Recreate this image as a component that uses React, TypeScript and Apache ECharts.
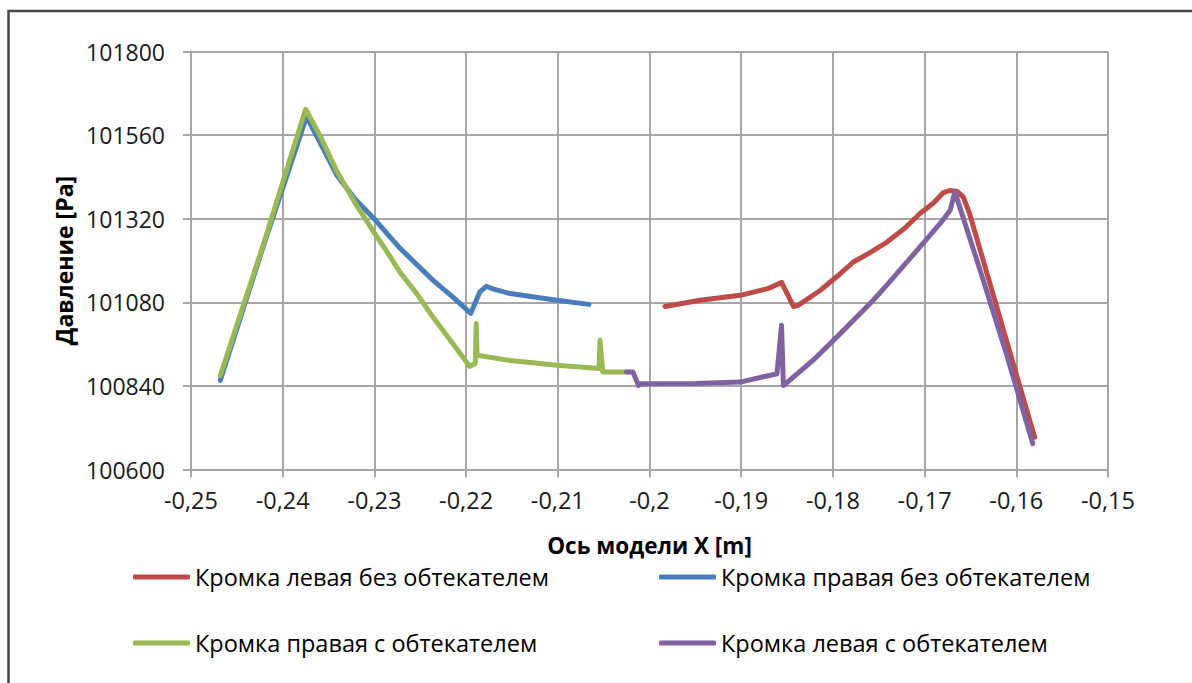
import React, { useEffect, useRef } from "react";
import * as echarts from "echarts";

const seriesNames = [
  "Кромка левая без обтекателем",
  "Кромка правая без обтекателем",
  "Кромка правая с обтекателем",
  "Кромка левая с обтекателем",
];

const colors = ["#BE4B48", "#4A7EBB", "#98B954", "#7F63A1"];

// Кромка левая без обтекателем (red)
const redX = [-0.1983, -0.1945, -0.1901, -0.1870, -0.1856, -0.1843, -0.1838, -0.1814, -0.1792, -0.1778, -0.1760, -0.1741, -0.1722, -0.1705, -0.1690, -0.1680, -0.1673, -0.1665, -0.1658, -0.1651, -0.1580];
const redY = [101068, 101086, 101100, 101120, 101137, 101068, 101071, 101114, 101162, 101195, 101222, 101253, 101292, 101335, 101366, 101394, 101401, 101399, 101383, 101335, 100693];

// Кромка правая без обтекателем (blue)
const blueX = [-0.2468, -0.2420, -0.2374, -0.2359, -0.2341, -0.2321, -0.2299, -0.2272, -0.2236, -0.2214, -0.2195, -0.2185, -0.2178, -0.2170, -0.2152, -0.2120, -0.2101, -0.2066];
const blueY = [100856, 101250, 101613, 101537, 101445, 101376, 101316, 101235, 101143, 101094, 101048, 101110, 101126, 101118, 101105, 101093, 101086, 101074];

// Кромка правая с обтекателем (green)
const greenX = [-0.2468, -0.2420, -0.2375, -0.2359, -0.2341, -0.2321, -0.2299, -0.2286, -0.2272, -0.2255, -0.2236, -0.2218, -0.2196, -0.2190, -0.2189, -0.2188, -0.2152, -0.2101, -0.2055, -0.2054, -0.2051, -0.2025];
const greenY = [100870, 101255, 101634, 101557, 101456, 101365, 101275, 101224, 101166, 101109, 101037, 100974, 100896, 100905, 101019, 100928, 100913, 100899, 100890, 100971, 100880, 100880];

// Кромка левая с обтекателем (purple)
const purpleX = [-0.2025, -0.2018, -0.2012, -0.2010, -0.1950, -0.1901, -0.1861, -0.1856, -0.1854, -0.1821, -0.1792, -0.1756, -0.1741, -0.1705, -0.1680, -0.1672, -0.1667, -0.1638, -0.1610, -0.1582];
const purpleY = [100880, 100880, 100841, 100846, 100847, 100851, 100875, 101014, 100841, 100915, 100990, 101086, 101130, 101239, 101316, 101345, 101397, 101160, 100925, 100674];

const xTicks = { min: -0.25, max: -0.15, interval: 0.01 };
const yTicks = { min: 100600, max: 101800, interval: 240 };

const xTitle = "Ось модели X [m]";
const yTitle = "Давление [Pa]";

const zip = (xs: number[], ys: number[]) => xs.map((x, i) => [x, ys[i]]);
const seriesData = [zip(redX, redY), zip(blueX, blueY), zip(greenX, greenY), zip(purpleX, purpleY)];

const FONT = "'Open Sans', 'Noto Sans', sans-serif";

export default function App() {
  const ref = useRef<HTMLDivElement>(null);
  useEffect(() => {
    if (!ref.current) return;
    const chart = echarts.init(ref.current, null, { renderer: "svg" });
    const fmtX = (v: number) => String(parseFloat(v.toFixed(2))).replace(".", ",");
    const fmtY = (v: number) => String(Math.round(v));
    const legendPos = [
      { left: 133, top: 563 },
      { left: 659, top: 563 },
      { left: 133, top: 629 },
      { left: 659, top: 629 },
    ];
    chart.setOption({
      animation: false,
      backgroundColor: "#ffffff",
      grid: { left: 191, top: 51.5, right: 84, bottom: 213.5, containLabel: false },
      xAxis: {
        type: "value",
        min: xTicks.min,
        max: xTicks.max,
        interval: xTicks.interval,
        name: xTitle,
        nameLocation: "middle",
        nameGap: 64,
        nameTextStyle: { fontFamily: FONT, fontSize: 22.5, fontWeight: "bold", color: "#000" },
        axisLine: { show: true, onZero: false, lineStyle: { color: "#A6A6A6", width: 2 } },
        axisTick: { show: true, length: 8, lineStyle: { color: "#A6A6A6", width: 2 } },
        axisLabel: { formatter: fmtX, fontFamily: FONT, fontSize: 23.5, color: "#1a1a1a", margin: 18 },
        splitLine: { show: true, lineStyle: { color: "#A6A6A6", width: 2 } },
      },
      yAxis: {
        type: "value",
        min: yTicks.min,
        max: yTicks.max,
        interval: yTicks.interval,
        name: yTitle,
        nameLocation: "middle",
        nameRotate: 90,
        nameGap: 115,
        nameTextStyle: { fontFamily: FONT, fontSize: 23, fontWeight: "bold", color: "#000" },
        axisLine: { show: true, lineStyle: { color: "#A6A6A6", width: 2 } },
        axisTick: { show: true, length: 8, lineStyle: { color: "#A6A6A6", width: 2 } },
        axisLabel: { formatter: fmtY, fontFamily: FONT, fontSize: 23, color: "#1a1a1a", margin: 26 },
        splitLine: { show: true, lineStyle: { color: "#A6A6A6", width: 2 } },
      },
      legend: seriesNames.map((name, k) => ({
        data: [name],
        left: legendPos[k].left,
        top: legendPos[k].top,
        padding: 0,
        icon: "roundRect",
        itemWidth: 57,
        itemHeight: 5,
        selectedMode: false,
        textStyle: { fontFamily: FONT, fontSize: 23.5, color: "#000", lineHeight: 28 },
      })),
      graphic: [
        {
          type: "rect",
          shape: { x: 8.5, y: 11, width: 1400, height: 1000 },
          style: { fill: "none", stroke: "#444444", lineWidth: 2.5 },
          silent: true,
        },
      ],
      series: seriesNames.map((name, i) => ({
        name,
        type: "line",
        data: seriesData[i],
        showSymbol: false,
        symbol: "none",
        color: colors[i],
        lineStyle: { width: 5, color: colors[i], cap: "round", join: "round" },
        z: i === 1 ? 2 : 3,
      })),
    });
    return () => chart.dispose();
  }, []);
  return <div ref={ref} style={{ position: "fixed", left: 0, top: 0, width: 1192, height: 683 }} />;
}
